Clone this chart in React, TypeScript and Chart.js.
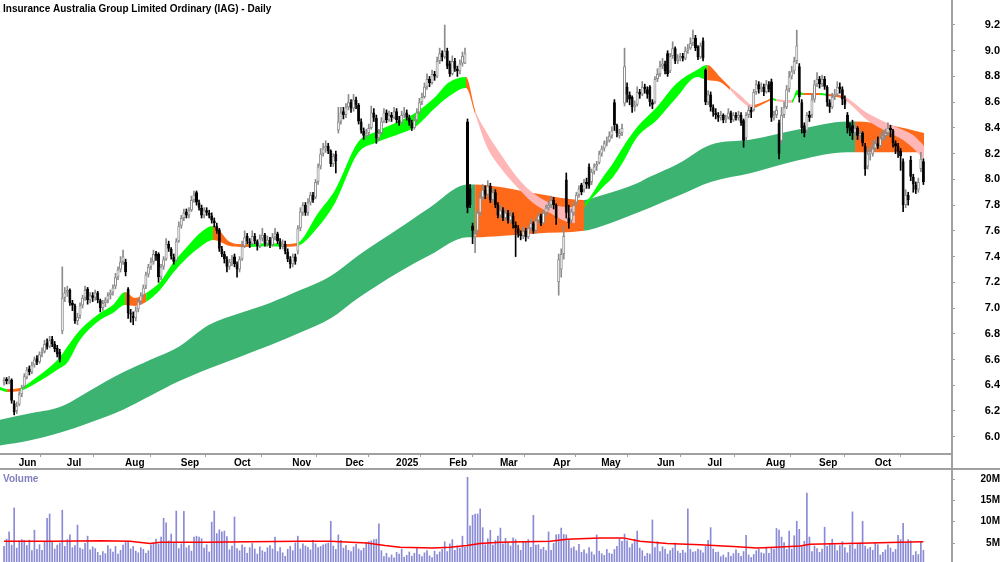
import React, { useEffect, useRef } from 'react';
import { Chart, registerables } from 'chart.js';

Chart.register(...registerables);

const FONT_FAMILY = "'Liberation Sans', Arial, Helvetica, sans-serif";
const chartTitle = 'Insurance Australia Group Limited Ordinary (IAG) - Daily';
const volumeTitle = 'Volume';

// x-axis: trading-day index of the first session of each month
const monthTickIdx = [5, 24, 47, 69, 90, 113, 134, 154, 175, 195, 216, 235, 257, 277, 300, 321, 343];
const monthTickLabels = ['Jun', 'Jul', 'Aug', 'Sep', 'Oct', 'Nov', 'Dec', '2025', 'Feb', 'Mar', 'Apr', 'May', 'Jun', 'Jul', 'Aug', 'Sep', 'Oct'];
const priceTicks = [6.0, 6.2, 6.4, 6.6, 6.8, 7.0, 7.2, 7.4, 7.6, 7.8, 8.0, 8.2, 8.4, 8.6, 8.8, 9.0, 9.2];
const volumeTicks = [5, 10, 15, 20];

const opens = [
  6.42,6.45,6.43,6.44,6.26,6.20,6.25,6.33,6.39,6.46,
  6.53,6.50,6.56,6.61,6.58,6.65,6.66,6.73,6.70,6.76,
  6.72,6.69,6.66,6.82,7.08,7.12,7.14,7.04,7.02,6.90,
  6.94,7.02,7.08,7.15,7.06,7.10,7.08,7.12,7.06,7.00,
  7.04,7.06,7.10,7.12,7.17,7.24,7.30,7.36,7.36,7.15,
  6.96,6.94,6.92,6.99,7.05,7.10,7.17,7.26,7.32,7.36,
  7.42,7.42,7.24,7.32,7.38,7.50,7.46,7.40,7.37,7.52,
  7.64,7.70,7.75,7.72,7.76,7.84,7.90,7.82,7.78,7.72,
  7.76,7.74,7.72,7.68,7.64,7.61,7.46,7.42,7.38,7.32,
  7.36,7.40,7.34,7.30,7.38,7.48,7.56,7.52,7.50,7.56,
  7.52,7.48,7.54,7.57,7.50,7.53,7.49,7.55,7.58,7.52,
  7.48,7.50,7.44,7.38,7.34,7.40,7.44,7.62,7.74,7.80,
  7.74,7.82,7.88,7.86,7.98,8.10,8.20,8.24,8.26,8.22,
  8.12,8.20,8.38,8.45,8.53,8.50,8.56,8.60,8.55,8.62,
  8.58,8.45,8.38,8.34,8.36,8.40,8.52,8.48,8.32,8.36,
  8.45,8.52,8.46,8.50,8.48,8.53,8.46,8.44,8.50,8.52,
  8.48,8.44,8.40,8.46,8.52,8.60,8.64,8.72,8.78,8.75,
  8.82,8.80,8.92,8.98,8.95,9.00,8.90,8.82,8.92,8.86,
  8.84,8.90,8.90,8.45,7.93,7.64,7.55,7.60,7.74,7.86,
  7.92,7.88,7.95,7.84,7.90,7.80,7.72,7.76,7.70,7.74,
  7.68,7.72,7.65,7.62,7.58,7.56,7.60,7.55,7.62,7.66,
  7.60,7.68,7.72,7.66,7.74,7.78,7.80,7.84,7.80,7.20,
  7.30,7.42,8.00,7.70,7.68,7.74,7.82,7.88,7.96,7.92,
  7.98,8.10,7.98,8.06,8.10,8.13,8.20,8.24,8.28,8.30,
  8.34,8.60,8.42,8.34,8.36,8.59,8.72,8.66,8.64,8.56,
  8.58,8.68,8.66,8.72,8.70,8.72,8.60,8.60,8.78,8.82,
  8.88,8.90,8.98,8.84,8.96,9.02,8.92,8.94,8.96,8.94,
  9.00,9.02,9.06,9.10,9.03,8.95,9.08,8.85,8.60,8.66,
  8.56,8.52,8.50,8.48,8.50,8.46,8.48,8.52,8.46,8.50,
  8.48,8.50,8.46,8.32,8.50,8.54,8.54,8.68,8.74,8.70,
  8.72,8.68,8.74,8.76,8.48,8.50,8.44,8.30,8.50,8.56,
  8.70,8.80,8.84,8.92,8.88,8.60,8.42,8.38,8.50,8.50,
  8.62,8.74,8.78,8.74,8.78,8.72,8.60,8.56,8.64,8.66,
  8.72,8.70,8.62,8.50,8.40,8.42,8.36,8.40,8.34,8.36,
  8.26,8.10,8.20,8.20,8.24,8.28,8.26,8.32,8.34,8.36,
  8.40,8.38,8.28,8.26,8.22,8.14,7.80,7.88,8.15,8.02,
  7.96,7.92,8.08,8.14
];
const highs = [
  6.46,6.46,6.47,6.45,6.28,6.27,6.35,6.40,6.49,6.54,
  6.55,6.58,6.62,6.63,6.66,6.69,6.75,6.76,6.78,6.78,
  6.74,6.71,6.68,7.32,7.16,7.17,7.15,7.06,7.03,6.96,
  7.04,7.10,7.17,7.16,7.12,7.12,7.14,7.13,7.07,7.06,
  7.08,7.12,7.14,7.18,7.27,7.32,7.40,7.45,7.38,7.16,
  6.99,6.97,7.01,7.07,7.12,7.18,7.28,7.34,7.39,7.45,
  7.44,7.43,7.34,7.40,7.54,7.52,7.47,7.42,7.54,7.67,
  7.72,7.77,7.77,7.78,7.87,7.91,7.91,7.84,7.80,7.78,
  7.78,7.76,7.74,7.70,7.66,7.62,7.48,7.44,7.40,7.38,
  7.41,7.42,7.36,7.40,7.52,7.60,7.58,7.54,7.60,7.58,
  7.53,7.57,7.62,7.58,7.56,7.55,7.58,7.62,7.59,7.54,
  7.53,7.52,7.46,7.40,7.42,7.42,7.64,7.78,7.82,7.82,
  7.85,7.90,7.90,8.00,8.12,8.24,8.28,8.30,8.28,8.23,
  8.20,8.22,8.56,8.56,8.56,8.59,8.66,8.62,8.66,8.64,
  8.59,8.47,8.40,8.39,8.43,8.57,8.55,8.50,8.39,8.48,
  8.55,8.54,8.53,8.52,8.56,8.55,8.49,8.53,8.56,8.54,
  8.50,8.46,8.49,8.55,8.63,8.67,8.75,8.82,8.80,8.85,
  8.84,8.95,9.02,9.00,9.20,9.02,8.92,8.96,8.94,8.88,
  8.93,8.99,9.02,8.47,7.96,7.66,7.60,7.76,7.90,7.96,
  7.95,7.99,7.97,7.93,7.92,7.82,7.80,7.78,7.77,7.76,
  7.75,7.74,7.67,7.64,7.60,7.63,7.62,7.64,7.69,7.67,
  7.70,7.74,7.73,7.76,7.80,7.83,7.87,7.86,7.81,7.42,
  7.46,7.64,8.05,7.80,7.77,7.82,7.90,7.95,7.97,8.00,
  8.01,8.12,8.08,8.12,8.14,8.22,8.26,8.30,8.33,8.37,
  8.41,8.62,8.43,8.39,8.43,9.02,8.75,8.68,8.65,8.61,
  8.72,8.70,8.76,8.74,8.72,8.73,8.62,8.80,8.86,8.92,
  8.94,8.92,9.00,8.98,9.07,9.03,8.97,8.98,8.98,9.03,
  9.05,9.10,9.16,9.12,9.04,9.06,9.10,8.86,8.69,8.68,
  8.58,8.55,8.52,8.53,8.51,8.50,8.55,8.53,8.52,8.52,
  8.53,8.52,8.47,8.52,8.57,8.56,8.70,8.77,8.76,8.75,
  8.74,8.77,8.76,8.78,8.53,8.57,8.46,8.56,8.60,8.73,
  8.84,8.88,8.95,9.16,8.90,8.62,8.44,8.52,8.53,8.66,
  8.77,8.83,8.80,8.81,8.80,8.73,8.62,8.67,8.70,8.76,
  8.75,8.72,8.65,8.52,8.44,8.46,8.43,8.41,8.38,8.37,
  8.28,8.24,8.26,8.30,8.31,8.33,8.36,8.38,8.39,8.44,
  8.42,8.39,8.30,8.28,8.24,8.16,7.92,7.90,8.18,8.04,
  7.98,8.01,8.21,8.16
];
const lows = [
  6.40,6.41,6.41,6.26,6.17,6.18,6.24,6.31,6.38,6.45,
  6.48,6.49,6.54,6.56,6.57,6.62,6.65,6.68,6.69,6.70,
  6.66,6.62,6.58,6.80,7.05,7.09,7.02,6.98,6.88,6.87,
  6.92,7.00,7.06,7.03,7.04,7.05,7.06,7.04,6.97,6.98,
  7.01,7.04,7.07,7.10,7.15,7.22,7.28,7.34,7.25,6.92,
  6.89,6.87,6.90,6.97,7.03,7.08,7.15,7.24,7.30,7.34,
  7.37,7.20,7.22,7.30,7.37,7.44,7.38,7.34,7.36,7.51,
  7.62,7.68,7.70,7.70,7.75,7.82,7.80,7.76,7.70,7.70,
  7.72,7.70,7.66,7.63,7.58,7.44,7.40,7.35,7.28,7.30,
  7.33,7.32,7.24,7.28,7.37,7.47,7.50,7.47,7.49,7.50,
  7.45,7.47,7.52,7.48,7.48,7.47,7.48,7.53,7.50,7.46,
  7.46,7.42,7.36,7.31,7.32,7.34,7.42,7.60,7.72,7.72,
  7.72,7.80,7.82,7.85,7.96,8.08,8.18,8.21,8.20,8.10,
  8.10,8.05,8.36,8.43,8.47,8.48,8.54,8.52,8.53,8.55,
  8.43,8.36,8.31,8.32,8.34,8.39,8.45,8.28,8.30,8.35,
  8.44,8.44,8.45,8.45,8.47,8.44,8.42,8.43,8.48,8.46,
  8.42,8.38,8.39,8.45,8.51,8.58,8.63,8.70,8.72,8.74,
  8.77,8.79,8.90,8.92,8.94,8.86,8.80,8.81,8.84,8.80,
  8.82,8.88,8.90,7.74,7.78,7.50,7.43,7.58,7.72,7.84,
  7.85,7.86,7.82,7.82,7.78,7.70,7.70,7.68,7.68,7.66,
  7.66,7.62,7.40,7.55,7.53,7.54,7.52,7.54,7.60,7.58,
  7.58,7.66,7.64,7.65,7.72,7.76,7.78,7.77,7.65,7.10,
  7.24,7.38,7.70,7.62,7.66,7.72,7.80,7.86,7.88,7.90,
  7.93,7.93,7.96,8.04,8.07,8.12,8.18,8.22,8.26,8.29,
  8.32,8.38,8.33,8.32,8.34,8.57,8.60,8.58,8.52,8.53,
  8.57,8.63,8.65,8.67,8.63,8.57,8.55,8.59,8.76,8.80,
  8.86,8.82,8.80,8.83,8.94,8.90,8.90,8.92,8.92,8.93,
  8.98,9.01,9.04,9.00,8.93,8.94,8.92,8.58,8.58,8.53,
  8.49,8.47,8.45,8.46,8.44,8.44,8.47,8.44,8.45,8.46,
  8.46,8.42,8.25,8.30,8.48,8.48,8.53,8.66,8.67,8.68,
  8.65,8.67,8.68,8.45,8.46,8.48,8.16,8.28,8.48,8.55,
  8.68,8.78,8.82,8.90,8.60,8.36,8.33,8.36,8.45,8.48,
  8.60,8.72,8.71,8.72,8.70,8.57,8.52,8.55,8.62,8.65,
  8.67,8.58,8.55,8.36,8.34,8.31,8.34,8.31,8.31,8.26,
  8.03,8.08,8.15,8.18,8.22,8.24,8.25,8.30,8.31,8.34,
  8.33,8.25,8.20,8.17,8.07,7.75,7.78,7.80,7.99,7.90,
  7.89,7.90,8.06,7.96
];
const closes = [
  6.44,6.43,6.45,6.28,6.19,6.24,6.33,6.38,6.47,6.52,
  6.50,6.56,6.60,6.58,6.64,6.66,6.72,6.70,6.75,6.72,
  6.68,6.64,6.60,7.08,7.12,7.14,7.04,7.02,6.90,6.93,
  7.02,7.08,7.14,7.06,7.10,7.08,7.12,7.06,7.00,7.04,
  7.06,7.10,7.12,7.16,7.24,7.30,7.36,7.40,7.28,6.96,
  6.95,6.92,6.98,7.05,7.10,7.16,7.26,7.32,7.36,7.42,
  7.40,7.24,7.32,7.38,7.50,7.46,7.40,7.36,7.52,7.64,
  7.70,7.74,7.72,7.76,7.84,7.88,7.82,7.78,7.72,7.76,
  7.74,7.72,7.68,7.66,7.60,7.46,7.42,7.38,7.32,7.36,
  7.38,7.34,7.30,7.38,7.48,7.55,7.52,7.50,7.56,7.52,
  7.48,7.54,7.57,7.50,7.53,7.49,7.55,7.58,7.52,7.48,
  7.50,7.44,7.38,7.34,7.40,7.36,7.62,7.75,7.80,7.74,
  7.82,7.88,7.84,7.98,8.10,8.20,8.24,8.26,8.22,8.12,
  8.18,8.14,8.45,8.52,8.50,8.56,8.60,8.55,8.62,8.58,
  8.45,8.38,8.34,8.36,8.40,8.52,8.48,8.32,8.36,8.45,
  8.52,8.46,8.50,8.48,8.53,8.46,8.44,8.50,8.52,8.48,
  8.44,8.40,8.46,8.52,8.60,8.64,8.72,8.78,8.75,8.82,
  8.80,8.92,8.98,8.95,9.00,8.88,8.82,8.92,8.86,8.84,
  8.90,8.96,8.98,7.78,7.80,7.60,7.58,7.74,7.86,7.92,
  7.88,7.95,7.84,7.90,7.80,7.72,7.76,7.70,7.74,7.68,
  7.72,7.65,7.62,7.58,7.56,7.60,7.55,7.62,7.66,7.60,
  7.68,7.72,7.66,7.74,7.78,7.80,7.84,7.80,7.70,7.38,
  7.42,7.56,7.74,7.66,7.75,7.80,7.88,7.93,7.90,7.98,
  7.96,7.95,8.06,8.10,8.12,8.20,8.24,8.28,8.30,8.34,
  8.38,8.42,8.36,8.36,8.40,8.88,8.66,8.62,8.56,8.58,
  8.68,8.66,8.72,8.70,8.66,8.60,8.58,8.78,8.82,8.88,
  8.90,8.84,8.82,8.96,9.02,8.92,8.94,8.96,8.94,9.00,
  9.02,9.06,9.10,9.02,8.95,9.04,8.94,8.60,8.66,8.56,
  8.52,8.50,8.48,8.50,8.46,8.48,8.52,8.46,8.50,8.48,
  8.50,8.44,8.30,8.50,8.54,8.52,8.68,8.74,8.70,8.72,
  8.68,8.74,8.70,8.48,8.50,8.54,8.20,8.50,8.56,8.70,
  8.80,8.84,8.92,9.04,8.64,8.40,8.36,8.50,8.48,8.62,
  8.74,8.78,8.74,8.78,8.72,8.60,8.56,8.64,8.66,8.72,
  8.70,8.62,8.58,8.40,8.38,8.36,8.40,8.34,8.36,8.28,
  8.08,8.20,8.22,8.24,8.28,8.26,8.32,8.34,8.36,8.40,
  8.38,8.28,8.26,8.22,8.18,7.80,7.88,7.84,8.02,7.96,
  7.92,7.98,8.16,7.98
];
// daily volume, millions of shares
const volumes = [
  4.2,5.9,7.6,4.5,13.2,3.8,5.5,5.8,5.6,4.4,
  5.7,3.2,8.0,3.5,4.6,3.3,5.2,10.8,11.8,5.3,
  3.6,4.5,5.0,12.7,4.2,5.8,6.9,3.9,4.4,9.2,
  3.8,3.5,4.9,6.6,3.4,4.1,3.7,2.8,2.1,3.0,
  2.5,4.4,3.6,2.9,4.2,2.4,3.3,4.5,5.1,5.4,
  3.6,4.2,3.1,2.7,3.9,3.5,2.6,3.2,4.6,5.0,
  5.9,4.8,6.4,10.8,9.7,5.5,7.1,4.9,12.5,3.7,
  4.8,12.4,3.9,4.4,3.1,6.4,6.6,6.4,6.0,3.8,
  4.6,2.9,9.9,12.5,7.2,8.1,7.6,7.8,6.5,3.4,
  4.3,11.1,3.7,3.2,4.6,4.0,2.6,3.9,4.9,3.6,
  2.4,4.1,3.2,2.9,3.9,4.4,3.6,6.4,3.0,3.9,
  2.7,1.9,3.5,4.2,3.2,5.0,6.6,3.6,4.8,4.3,
  4.0,3.4,5.6,4.8,3.9,4.2,4.6,4.8,5.0,10.1,
  4.3,3.5,6.9,5.6,3.8,4.4,3.3,3.0,4.1,4.7,
  3.6,3.2,3.8,5.1,5.3,5.5,5.8,5.9,9.5,3.2,
  1.8,2.6,1.6,2.2,1.5,2.8,2.4,3.6,1.7,2.1,
  2.9,1.9,2.6,3.8,2.3,1.8,2.7,3.2,2.0,1.6,
  3.1,2.3,2.9,3.5,5.3,3.0,4.8,5.8,3.3,4.3,
  3.8,6.6,4.0,20.4,9.0,11.5,11.8,11.8,13.0,8.6,
  4.6,6.0,8.0,4.5,5.6,6.6,8.5,4.8,6.1,5.0,
  4.3,6.2,5.8,4.5,3.3,5.2,5.4,5.8,4.0,11.5,
  4.5,4.6,3.5,4.0,3.2,7.6,3.3,4.9,6.9,7.0,
  8.5,7.0,6.9,5.6,3.8,4.1,3.2,4.7,2.8,3.4,
  2.5,3.9,2.9,2.2,6.9,3.1,2.5,2.1,3.5,2.6,
  2.4,3.5,4.2,6.0,5.4,7.1,5.5,3.9,4.8,5.9,
  7.8,3.8,3.2,1.9,2.6,2.4,10.4,3.9,5.3,3.0,
  4.1,3.6,2.4,3.2,3.8,5.0,3.1,2.6,3.3,2.7,
  13.0,3.5,2.9,3.0,3.6,3.3,2.7,4.2,5.6,8.6,
  3.6,2.8,2.9,1.8,2.2,1.6,2.8,1.9,2.5,3.4,
  2.6,1.9,3.0,6.8,2.2,1.6,2.3,3.2,3.6,2.7,
  2.5,3.8,2.6,4.0,3.6,8.4,8.0,6.4,5.1,3.5,
  7.8,3.6,6.7,10.1,8.2,4.1,5.4,16.7,6.4,3.0,
  4.3,3.7,2.8,3.6,8.7,4.2,4.8,5.9,4.6,3.2,
  4.4,5.3,3.9,2.7,4.5,12.3,3.6,4.9,5.0,10.1,
  4.3,3.6,4.0,3.3,5.0,4.6,2.2,2.8,3.4,4.6,
  3.8,2.9,3.5,6.8,5.8,9.6,4.9,5.8,5.5,2.1,
  3.0,2.3,5.3,3.3
];

// short-term moving-average ribbon
const shortBandIdx = [-1.6,1.2,6.3,11.4,22.1,24.9,30,37.9,43,47.8,51.7,56.1,61.6,66.7,72.2,77.4,82.5,89.2,93.2,97.1,105,110.1,115.7,124,130.7,139.8,146.5,157.1,162.3,170.2,175.3,182.4,186,190.7,195.8,202.5,208.9,215.6,222.3,225.5,229.4,236.5,240.5,244.4,250,257.8,265.7,273.6,277.6,282.7,286.7,290.6,295.7,300.5,303.6,304.8,311.1,313.1,315.5,322.2,325.4,331.3,340.8,348.7,355,358.9,363.3];
const shortBandUpper = [6.386,6.371,6.379,6.441,6.620,6.697,6.829,6.962,7.024,7.125,7.078,7.117,7.202,7.350,7.475,7.583,7.638,7.513,7.498,7.498,7.506,7.498,7.506,7.739,7.918,8.291,8.368,8.462,8.516,8.640,8.749,8.796,8.539,8.361,8.205,8.019,7.894,7.817,7.785,7.785,7.817,8.019,8.128,8.252,8.407,8.563,8.749,8.850,8.889,8.796,8.718,8.656,8.578,8.609,8.633,8.625,8.617,8.695,8.672,8.672,8.664,8.648,8.516,8.438,8.384,8.345,8.26];
const shortBandLower = [6.363,6.348,6.355,6.402,6.534,6.573,6.752,6.907,6.962,7.024,7.016,7.047,7.140,7.272,7.389,7.475,7.529,7.482,7.475,7.475,7.482,7.475,7.482,7.630,7.817,8.205,8.283,8.361,8.407,8.555,8.640,8.710,8.508,8.252,8.096,7.941,7.817,7.739,7.669,7.661,7.785,7.941,8.019,8.135,8.329,8.462,8.640,8.796,8.773,8.757,8.695,8.617,8.555,8.594,8.617,8.609,8.594,8.656,8.656,8.656,8.648,8.625,8.462,8.368,8.306,8.244,8.15];
const shortBandColor = ['G','O','G','G','G','G','G','G','G','O','O','G','G','G','G','G','O','O','O','G','G','O','G','G','G','G','G','G','G','G','G','O','P','P','P','P','P','P','P','O','G','G','G','G','G','G','G','G','O','O','P','P','O','O','G','P','G','G','O','G','O','P','P','P','P','P','P'];

// long-term moving-average ribbon
const longBandIdx = [-2,10,22,34,47,58,69,81,93,105,117,129,140,156,168,183,186,196,210,229,235,250,255,266,279,295,314,333,336,350,363.3];
const longBandUpper = [6.13,6.18,6.23,6.36,6.50,6.60,6.70,6.87,6.96,7.04,7.14,7.25,7.41,7.62,7.78,7.96,7.96,7.94,7.89,7.84,7.87,7.97,8.02,8.12,8.27,8.31,8.39,8.45,8.45,8.42,8.36];
const longBandLower = [5.93,5.97,6.03,6.11,6.21,6.32,6.43,6.53,6.62,6.71,6.81,6.92,7.08,7.28,7.41,7.55,7.55,7.56,7.58,7.60,7.63,7.74,7.78,7.87,7.98,8.05,8.15,8.21,8.21,8.21,8.21];
const longBandColor = ['L','L','L','L','L','L','L','L','L','L','L','L','L','L','L','L','O','O','O','L','L','L','L','L','L','L','L','L','O','O','O'];

// volume moving average (millions)
const volAvgIdx = [0,19.3,37.9,49.7,57.6,61.6,79.4,97.1,116.9,128.7,143.3,150.4,156.4,169.4,176.1,182.8,187.9,195.8,215.6,222.3,235.3,244.4,251.1,261.8,274.8,287.8,297.3,304.4,314.3,318.2,327.3,341.9,353.8,363];
const volAvg = [5.4,5.4,5.5,5.4,4.9,5.2,5.2,5.3,5.4,5.4,5.0,4.4,4.0,3.8,4.0,4.4,4.9,5.2,5.4,5.9,6.2,6.2,5.4,4.9,4.6,4.2,3.8,4.0,4.3,4.7,4.8,5.0,5.2,5.3];

const BAND_COLORS: Record<string, string> = { G: '#00ff00', O: '#ff6a1a', P: '#ffb6b6', L: '#3cb371' };
const AXIS_COLOR = '#a0a0a0';
const UP_COLOR = '#8c8c8c';
const X_MIN = -1.595;
const X_MAX = 373.9;

const noPad = (s: any) => {
  s.paddingTop = 0;
  s.paddingBottom = 0;
  s.paddingLeft = 0;
  s.paddingRight = 0;
};

export default function App() {
  const priceRef = useRef<HTMLCanvasElement | null>(null);
  const volRef = useRef<HTMLCanvasElement | null>(null);

  useEffect(() => {
    document.body.style.margin = '0';
    const isUp = (i: number) => closes[i] >= opens[i];
    const font = { family: FONT_FAMILY, size: 10, weight: 'bold' as const };
    const priceFont = { family: FONT_FAMILY, size: 11, weight: 'bold' as const };

    const bandLine = (idxs: number[], vals: number[], order: number, extra: any = {}) => ({
      type: 'line' as const,
      data: idxs.map((x, i) => ({ x, y: vals[i] })),
      borderColor: 'rgba(0,0,0,0)',
      borderWidth: 0,
      pointRadius: 0,
      pointHoverRadius: 0,
      cubicInterpolationMode: 'monotone' as const,
      order,
      ...extra,
    });

    const priceDecor = {
      id: 'priceDecor',
      afterDraw(chart: any) {
        const { ctx, chartArea } = chart;
        ctx.save();
        ctx.strokeStyle = AXIS_COLOR;
        ctx.lineWidth = 2;
        ctx.beginPath();
        ctx.moveTo(0, chartArea.bottom);
        ctx.lineTo(chartArea.right, chartArea.bottom);
        ctx.moveTo(0, chart.height - 1);
        ctx.lineTo(chart.width, chart.height - 1);
        ctx.moveTo(chartArea.right + 1, 0);
        ctx.lineTo(chartArea.right + 1, chart.height);
        ctx.stroke();
        ctx.fillStyle = '#000000';
        ctx.font = `bold 10px ${FONT_FAMILY}`;
        ctx.textBaseline = 'alphabetic';
        ctx.textAlign = 'left';
        ctx.fillText(chartTitle, 3, 12);
        ctx.restore();
      },
    };

    const volDecor = {
      id: 'volDecor',
      afterDraw(chart: any) {
        const { ctx, chartArea } = chart;
        ctx.save();
        ctx.strokeStyle = AXIS_COLOR;
        ctx.lineWidth = 2;
        ctx.beginPath();
        ctx.moveTo(chartArea.right + 1, 0);
        ctx.lineTo(chartArea.right + 1, chart.height);
        ctx.stroke();
        ctx.fillStyle = '#8080c0';
        ctx.font = `bold 10px ${FONT_FAMILY}`;
        ctx.textBaseline = 'alphabetic';
        ctx.textAlign = 'left';
        ctx.fillText(volumeTitle, 3, 12);
        ctx.restore();
      },
    };

    const priceChart = new Chart(priceRef.current as HTMLCanvasElement, {
      type: 'bar',
      data: {
        datasets: [
          {
            type: 'bar',
            data: closes.map((c, i) => ({ x: i, y: [Math.min(opens[i], c), Math.max(opens[i], c)] })),
            backgroundColor: (c: any) => (isUp(c.dataIndex) ? '#ffffff' : '#000000'),
            borderColor: (c: any) => (isUp(c.dataIndex) ? UP_COLOR : '#000000'),
            borderWidth: 1,
            borderSkipped: false,
            grouped: false,
            categoryPercentage: 1,
            barPercentage: 1.2,
            maxBarThickness: 3,
            order: 0,
          } as any,
          {
            type: 'bar',
            data: closes.map((_c, i) => ({ x: i, y: [lows[i], highs[i]] })),
            backgroundColor: (c: any) => (isUp(c.dataIndex) ? UP_COLOR : '#000000'),
            borderWidth: 0,
            grouped: false,
            categoryPercentage: 1,
            barPercentage: 1,
            maxBarThickness: 1,
            order: 1,
          } as any,
          bandLine(shortBandIdx, shortBandUpper, 2),
          bandLine(shortBandIdx, shortBandLower, 2, {
            fill: '-1',
            backgroundColor: BAND_COLORS.G,
            segment: { backgroundColor: (c: any) => BAND_COLORS[shortBandColor[c.p0DataIndex]] },
          }),
          bandLine(longBandIdx, longBandUpper, 3),
          bandLine(longBandIdx, longBandLower, 3, {
            fill: '-1',
            backgroundColor: BAND_COLORS.L,
            segment: { backgroundColor: (c: any) => BAND_COLORS[longBandColor[c.p0DataIndex]] },
          }),
        ] as any,
      },
      options: {
        responsive: false,
        animation: false,
        devicePixelRatio: 1,
        events: [],
        layout: { padding: 0, autoPadding: false },
        plugins: { legend: { display: false }, tooltip: { enabled: false }, title: { display: false } },
        scales: {
          x: {
            type: 'linear',
            min: X_MIN,
            max: X_MAX,
            offset: false,
            afterBuildTicks: (s: any) => { s.ticks = monthTickIdx.map((v) => ({ value: v })); },
            afterFit: (s: any) => { s.height = 16; noPad(s); },
            grid: { display: true, drawOnChartArea: false, drawTicks: true, tickLength: 3, color: AXIS_COLOR },
            border: { display: false },
            ticks: {
              autoSkip: false, maxRotation: 0, minRotation: 0, align: 'start', labelOffset: 2, padding: 0,
              font, color: '#000000',
              callback: (_v: any, i: number) => monthTickLabels[i],
            },
          },
          y: {
            type: 'linear',
            position: 'right',
            min: 5.8655,
            max: 9.3943,
            afterBuildTicks: (s: any) => { s.ticks = priceTicks.map((v) => ({ value: v })); },
            afterFit: (s: any) => { s.width = 49; noPad(s); },
            grid: { drawOnChartArea: false, drawTicks: true, tickLength: 4, color: AXIS_COLOR },
            border: { display: false },
            ticks: {
              font: priceFont, color: '#000000', padding: 25, crossAlign: 'far',
              callback: (v: any) => Number(v).toFixed(1),
            },
          },
        },
      } as any,
      plugins: [priceDecor],
    });

    const volChart = new Chart(volRef.current as HTMLCanvasElement, {
      type: 'bar',
      data: {
        datasets: [
          {
            type: 'line',
            data: volAvgIdx.map((x, i) => ({ x, y: volAvg[i] })),
            borderColor: '#ff0000',
            borderWidth: 1.5,
            pointRadius: 0,
            tension: 0,
            order: 0,
          } as any,
          {
            type: 'bar',
            data: volumes.map((v, i) => ({ x: i, y: v })),
            backgroundColor: '#8a8ad6',
            borderWidth: 0,
            grouped: false,
            categoryPercentage: 1,
            barPercentage: 1,
            maxBarThickness: 1,
            order: 1,
          } as any,
        ],
      },
      options: {
        responsive: false,
        animation: false,
        devicePixelRatio: 1,
        events: [],
        layout: { padding: 0, autoPadding: false },
        plugins: { legend: { display: false }, tooltip: { enabled: false } },
        scales: {
          x: { type: 'linear', min: X_MIN, max: X_MAX, offset: false, display: false, afterFit: noPad },
          y: {
            type: 'linear',
            position: 'right',
            min: 0.547,
            max: 22.11,
            afterBuildTicks: (s: any) => { s.ticks = volumeTicks.map((v) => ({ value: v })); },
            afterFit: (s: any) => { s.width = 49; noPad(s); },
            grid: { drawOnChartArea: false, drawTicks: true, tickLength: 4, color: AXIS_COLOR },
            border: { display: false },
            ticks: {
              font, color: '#000000', padding: 20, crossAlign: 'far',
              callback: (v: any) => `${v}M`,
            },
          },
        },
      } as any,
      plugins: [volDecor],
    });

    return () => {
      priceChart.destroy();
      volChart.destroy();
    };
  }, []);

  return (
    <div style={{ position: 'relative', width: 1000, height: 562, background: '#ffffff' }}>
      <canvas ref={priceRef} width={1000} height={470} style={{ position: 'absolute', left: 0, top: 0, display: 'block' }} />
      <canvas ref={volRef} width={1000} height={92} style={{ position: 'absolute', left: 0, top: 470, display: 'block' }} />
    </div>
  );
}
